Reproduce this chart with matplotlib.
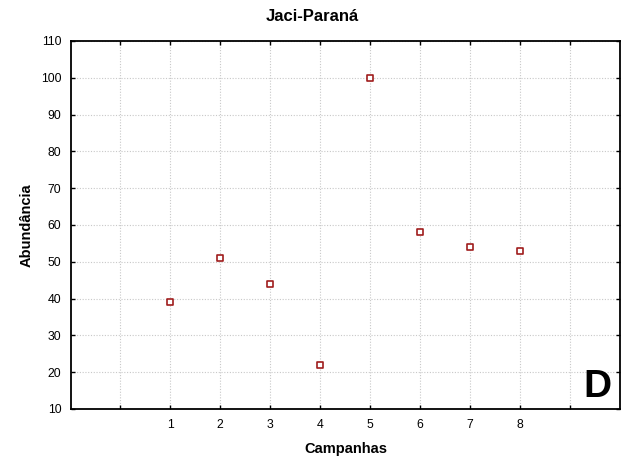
import matplotlib
matplotlib.use("Agg")
import matplotlib.pyplot as plt

campanhas = [1, 2, 3, 4, 5, 6, 7, 8]
abundancia = [39, 51, 44, 22, 100, 58, 54, 53]
x_ticks = [0, 1, 2, 3, 4, 5, 6, 7, 8, 9]
x_tick_labels = ["", "1", "2", "3", "4", "5", "6", "7", "8", ""]
y_ticks = [10, 20, 30, 40, 50, 60, 70, 80, 90, 100, 110]

plt.rcParams["font.family"] = ["Liberation Sans", "DejaVu Sans"]

fig = plt.figure(figsize=(6.25, 4.59), dpi=100)
ax = fig.add_axes([0.1136, 0.109, 0.8784, 0.8017])

ax.scatter(campanhas, abundancia, marker="s", s=22, facecolors="white",
           edgecolors="#a01c1c", linewidths=1.2, zorder=3)

ax.set_xlim(-0.98, 10)
ax.set_ylim(10, 110)
ax.set_xticks(x_ticks)
ax.set_xticklabels(x_tick_labels)
ax.set_yticks(y_ticks)

ax.grid(True, color="#c8c8c8", linestyle=(0, (1, 1.5)), linewidth=0.8)
ax.set_axisbelow(True)

for side in ["left", "bottom", "top", "right"]:
    ax.spines[side].set_linewidth(1.3)
    ax.spines[side].set_color("black")

ax.tick_params(axis="both", direction="in", length=3, width=1,
               labelsize=8.8, top=True, right=True, pad=7)

fig.text(0.5, 0.965, "Jaci-Paraná", ha="center", va="center",
         fontsize=12, fontweight="bold")
ax.set_xlabel("Campanhas", fontsize=10.5, fontweight="bold", labelpad=8)
ax.set_ylabel("Abundância", fontsize=10.5, fontweight="bold", labelpad=5)

ax.text(0.985, 0.01, "D", transform=ax.transAxes, ha="right", va="bottom",
        fontsize=28, fontweight="bold")

fig.savefig("out.png", dpi=100)
